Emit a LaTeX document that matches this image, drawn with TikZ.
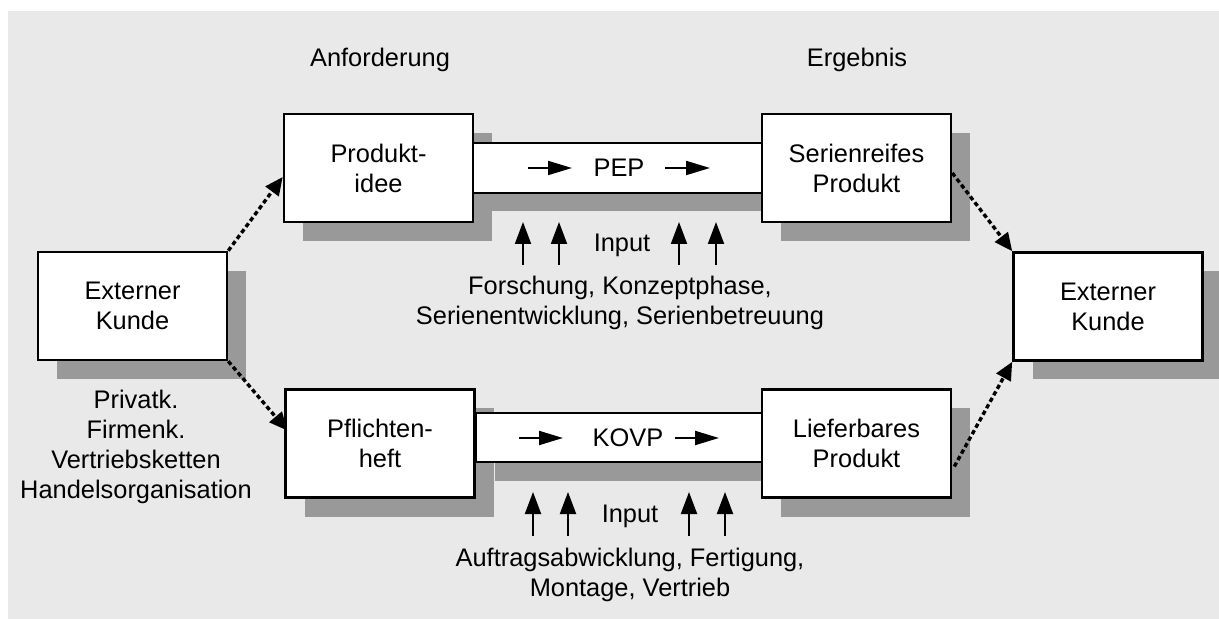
\documentclass[tikz,border=0pt]{standalone}
\usepackage{fontspec}
\setmainfont{Liberation Sans}
\usetikzlibrary{arrows.meta,calc}
\definecolor{bgpanel}{RGB}{233,233,233}
\definecolor{shadowgray}{RGB}{153,153,153}
\begin{document}
\begin{tikzpicture}[x=0.5pt,y=-0.5pt,
  every node/.style={font=\fontsize{12.7pt}{15pt}\selectfont, align=center},
  procbox/.style={draw=black, fill=white, line width=1.3pt, minimum width=94.5pt, minimum height=54pt, inner sep=0pt},
  shadowbox/.style={fill=shadowgray, draw=none, minimum width=94.5pt, minimum height=54pt, inner sep=0pt},
  dotarrow/.style={line width=1.7pt, dash pattern=on 2.2pt off 1.5pt, -{Triangle[length=9pt,width=8pt]}},
  flowarrow/.style={line width=1pt, -{Triangle[length=12pt,width=7pt]}},
  inarrow/.style={line width=1pt, -{Triangle[length=11pt,width=8pt]}},
  plain/.style={inner sep=0pt}
]
\useasboundingbox (0,0) rectangle (1219,619);
\fill[bgpanel] (8,11) rectangle (1219,619);

% shadows
\foreach \cx/\cy in {132.5/306, 378.5/168, 856.5/168, 1108/306.5, 380/443.5, 856.5/443.5}
  \node[shadowbox] at (\cx+19,\cy+19) {};
\fill[shadowgray] (492,161) rectangle (781,211);
\fill[shadowgray] (495,431) rectangle (782,481);

% process bars
\draw[line width=1.4pt, fill=white] (473,143) rectangle (762,193);
\draw[line width=1.4pt, fill=white] (476,413) rectangle (763,462);

% boxes
\node[procbox] (lek) at (132.5,306) {Externer\\Kunde};
\node[procbox] (pi) at (378.5,168) {Produkt-\\idee};
\node[procbox] (sp) at (856.5,168) {Serienreifes\\Produkt};
\node[procbox] (rek) at (1108,306.5) {Externer\\Kunde};
\node[procbox] (ph) at (380,443.5) {Pflichten-\\heft};
\node[procbox] (lp) at (856.5,443.5) {Lieferbares\\Produkt};

% bar labels and arrows
\node[plain] (pep) at (619,168) {PEP};
\node[plain] (kovp) at (628,438) {KOVP};
\draw[flowarrow] (528,168) -- (572,168);
\draw[flowarrow] (665,168) -- (710,168);
\draw[flowarrow] (519,438) -- (563,438);
\draw[flowarrow] (675,438) -- (719,438);

% input arrows
\foreach \x in {523,559,679,716}
  \draw[inarrow] (\x,265) -- (\x,222);
\foreach \x in {533,568,689,725}
  \draw[inarrow] (\x,536) -- (\x,492);
\node[plain] (in1) at (622,245) {Input};
\node[plain] (in2) at (630,516) {Input};

% descriptive texts
\node[plain] (anf) at (380,60) {Anforderung};
\node[plain] (erg) at (857,60) {Ergebnis};
\node[plain] (fk) at (620,303) {Forschung, Konzeptphase,\\Serienentwicklung, Serienbetreuung};
\node[plain] (af) at (630,575) {Auftragsabwicklung, Fertigung,\\Montage, Vertrieb};
\node[plain] (kunden) at (136,447) {Privatk.\\Firmenk.\\Vertriebsketten\\Handelsorganisation};

% dotted connectors
\draw[dotarrow] (lek.north east) -- ($(pi.west)+(0,9)$);
\draw[dotarrow] (lek.south east) -- ($(ph.west)+(3,-13)$);
\draw[dotarrow] ($(sp.east)+(0,5)$) -- (rek.north west);
\draw[dotarrow] ($(lp.east)+(2,23)$) -- (rek.south west);
\end{tikzpicture}
\end{document}
